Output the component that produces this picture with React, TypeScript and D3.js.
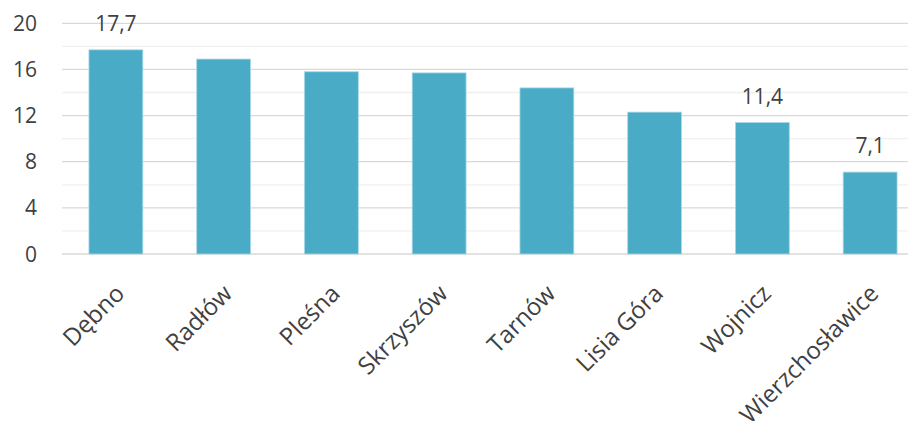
import React from "react";
import * as d3 from "d3";

const categories = ["Dębno", "Radłów", "Pleśna", "Skrzyszów", "Tarnów", "Lisia Góra", "Wojnicz", "Wierzchosławice"];
const values = [17.7, 16.9, 15.8, 15.7, 14.4, 12.3, 11.4, 7.1];
const labelled = [true, false, false, false, false, false, true, true];
const majorTicks = [0, 4, 8, 12, 16, 20];
const minorTicks = [2, 6, 10, 14, 18];

const W = 908;
const H = 421;
const FONT = "'Open Sans', sans-serif";
const TEXT = "#404040";

export default function App() {
  const x = d3.scaleBand<string>().domain(categories).range([62, 924]).paddingInner(0.5).paddingOuter(0.25);
  const y = d3.scaleLinear().domain([0, 20]).range([254, 23.3]);
  const fmt = (v: number) => v.toFixed(1).replace(".", ",");

  return (
    <svg width={W} height={H} style={{ position: "absolute", left: 0, top: 0, background: "#fff" }}>
      {minorTicks.map((t) => (
        <line key={"m" + t} x1={62} x2={W} y1={y(t)} y2={y(t)} stroke="#f0f0f0" strokeWidth={1.3} />
      ))}
      {majorTicks.map((t) => (
        <line key={"M" + t} x1={62} x2={W} y1={y(t)} y2={y(t)} stroke="#d9d9d9" strokeWidth={1.3} />
      ))}
      {majorTicks.map((t) => (
        <text key={"t" + t} x={37} y={y(t)} dy="0.36em" textAnchor="end" fontFamily={FONT} fontSize={21} fill={TEXT}>
          {t}
        </text>
      ))}
      {categories.map((c, i) => (
        <rect
          key={c}
          x={x(c)!}
          y={y(values[i])}
          width={x.bandwidth()}
          height={y(0) - y(values[i])}
          fill="#4aabc6"
          stroke="#a8d8e6"
          strokeWidth={0.8}
        />
      ))}
      {categories.map((c, i) =>
        labelled[i] ? (
          <text
            key={"v" + c}
            x={x(c)! + x.bandwidth() / 2}
            y={y(values[i]) - 19}
            textAnchor="middle"
            fontFamily={FONT}
            fontSize={21}
            fill={TEXT}
          >
            {fmt(values[i])}
          </text>
        ) : null
      )}
      {categories.map((c) => {
        const cx = x(c)! + x.bandwidth() / 2 + 10;
        const cy = 295;
        return (
          <text
            key={"c" + c}
            transform={`translate(${cx},${cy}) rotate(-45)`}
            textAnchor="end"
            fontFamily={FONT}
            fontSize={24}
            fill={TEXT}
          >
            {c}
          </text>
        );
      })}
    </svg>
  );
}
